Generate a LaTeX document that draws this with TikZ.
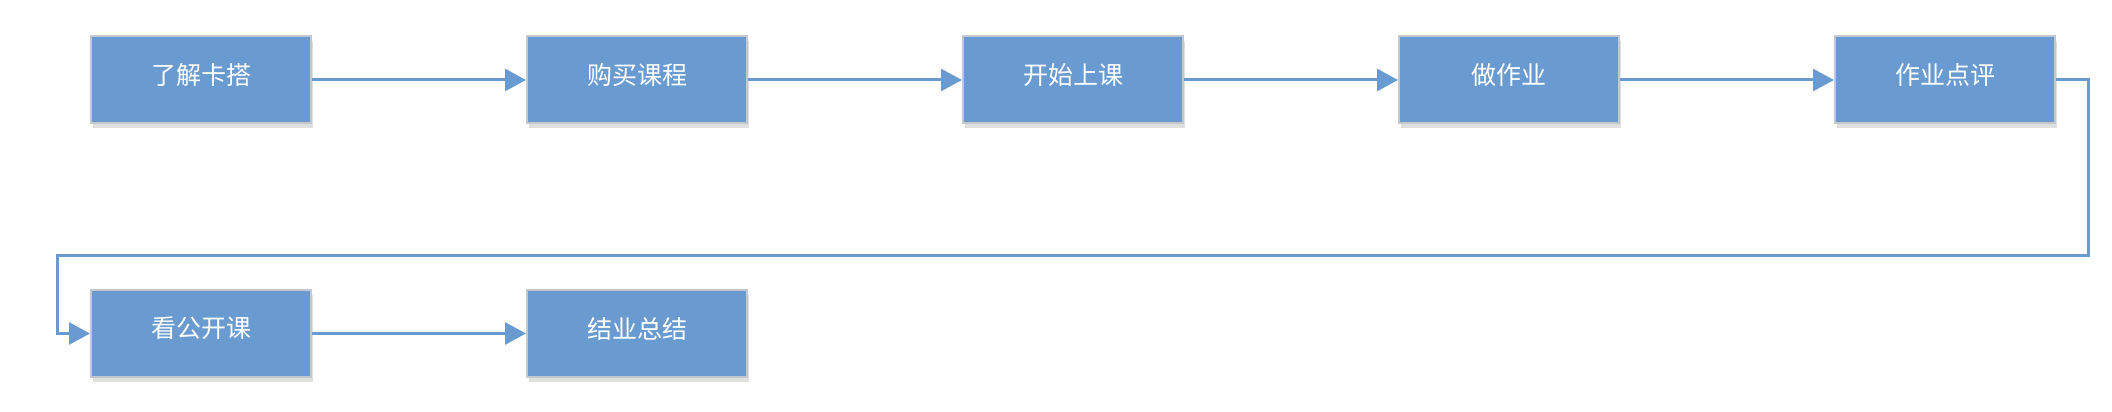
\documentclass[tikz,border=0pt]{standalone}
\usepackage{fontspec}
\newfontfamily\cjk{Noto Sans CJK SC}
\usetikzlibrary{arrows.meta,shadows}
\definecolor{boxblue}{HTML}{6A9BD0}
\definecolor{boxedge}{HTML}{C4C8CE}
\definecolor{linkblue}{HTML}{6A9BD0}
\tikzset{
  stepbox/.style={rectangle, fill=boxblue, draw=boxedge, line width=2pt,
    minimum width=220pt, minimum height=87pt, inner sep=0pt,
    text=white, font=\cjk\fontsize{25}{28}\selectfont,
    drop shadow={opacity=0.25, shadow xshift=2pt, shadow yshift=-5pt}},
  steplabel/.style={text=white, font=\cjk\fontsize{25}{28}\selectfont, inner sep=0pt},
  link/.style={draw=linkblue, line width=3pt, -{Triangle[length=21pt,width=22pt]}}
}
\begin{document}
\begin{tikzpicture}[x=1pt,y=1pt]
\useasboundingbox (0,0) rectangle (2112,412);
\fill[white] (0,0) rectangle (2112,412);
\node[stepbox] (a) at (201,332) {};
\node[stepbox] (b) at (637,332) {};
\node[stepbox] (c) at (1073,332) {};
\node[stepbox] (d) at (1509,332) {};
\node[stepbox] (e) at (1945,332) {};
\node[stepbox] (f) at (201,78.5) {};
\node[stepbox] (g) at (637,78.5) {};
\node[steplabel] (ta) at ([yshift=5pt]a.center) {了解卡搭};
\node[steplabel] (tb) at ([yshift=5pt]b.center) {购买课程};
\node[steplabel] (tc) at ([yshift=5pt]c.center) {开始上课};
\node[steplabel] (td) at ([yshift=5pt]d.center) {做作业};
\node[steplabel] (te) at ([yshift=5pt]e.center) {作业点评};
\node[steplabel] (tf) at ([yshift=5pt]f.center) {看公开课};
\node[steplabel] (tg) at ([yshift=5pt]g.center) {结业总结};
\coordinate (r) at (2088,156);
\coordinate (l) at (57,156);
\draw[link] (a) -- (b);
\draw[link] (b) -- (c);
\draw[link] (c) -- (d);
\draw[link] (d) -- (e);
\draw[link] (e.east) -| (r) -- (l) |- (f.west);
\draw[link] (f) -- (g);
\end{tikzpicture}
\end{document}
